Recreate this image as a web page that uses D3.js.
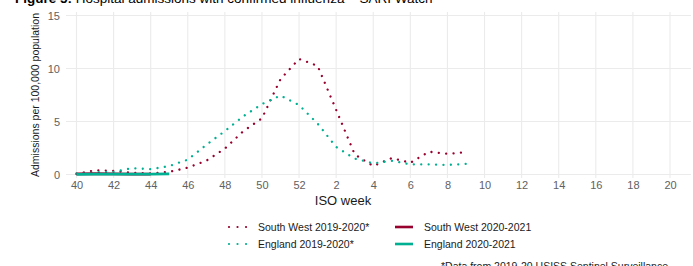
<!DOCTYPE html>
<html>
<head>
<meta charset="utf-8">
<script src="https://cdn.jsdelivr.net/npm/d3@7"></script>
<style>
	body { margin: 0; background: #fff; }
	svg { display: block; font-family: "Liberation Sans", Arial, sans-serif; }
</style>
</head>
<body>
<div id="chart"></div>
<script>
// ISO weeks along the x axis (season 40 -> 20)
const weeks = ['40','41','42','43','44','45','46','47','48','49','50','51','52',
	'1','2','3','4','5','6','7','8','9','10','11','12','13','14','15','16','17','18','19','20'];
const tickWeeks = ['40','42','44','46','48','50','52','2','4','6','8','10','12','14','16','18','20'];
const yTicks = [0, 5, 10, 15];

// 2019-2020 season, weeks 40 -> 9
const weeks1920 = ['40','41','42','43','44','45','46','47','48','49','50','51','52','1','2','3','4','5','6','7','8','9'];
const southWest1920 = [0.05, 0.4, 0.35, 0.15, 0.1, 0.25, 0.65, 1.3, 2.45, 4.1, 5.3, 9.0, 10.9, 10.25, 6.1, 1.9, 0.8, 1.55, 1.1, 2.15, 1.95, 2.1];
const england1920 = [0.1, 0.2, 0.25, 0.6, 0.5, 0.8, 1.4, 2.8, 4.1, 5.5, 6.65, 7.45, 6.55, 4.8, 2.6, 1.5, 1.05, 1.3, 0.95, 0.95, 0.9, 1.0];

// 2020-2021 season so far
const weeksSW2021 = ['40','41','42','43','44'];
const southWest2021 = [0.05, 0.07, 0.05, 0.03, 0.03];
const weeksEng2021 = ['40','41','42','43','44','45'];
const england2021 = [0.02, 0.03, 0.03, 0.04, 0.04, 0.05];

const RED = '#98002E', TEAL = '#00B092';

const series = [
	{ name: 'South West 2019-2020*', weeks: weeks1920, values: southWest1920, color: RED, dotted: true },
	{ name: 'England 2019-2020*', weeks: weeks1920, values: england1920, color: TEAL, dotted: true },
	{ name: 'South West 2020-2021', weeks: weeksSW2021, values: southWest2021, color: RED, dotted: false },
	{ name: 'England 2020-2021', weeks: weeksEng2021, values: england2021, color: TEAL, dotted: false }
];

const W = 693, H = 266;
const panel = { left: 66, right: 691, top: 12, bottom: 178 };

const svg = d3.select('#chart').append('svg')
	.attr('width', W).attr('height', H);

const x = d3.scalePoint().domain(weeks).range([76.5, 670]);
const y = d3.scaleLinear().domain([0, 15]).range([174.5, 15.5]);

// title, mostly cut off by the top edge
const title = svg.append('text').attr('x', 15).attr('y', 3)
	.attr('font-size', 13.5).attr('fill', '#000');
title.append('tspan').attr('font-weight', 'bold').text('Figure 5: ');
title.append('tspan').text('Hospital admissions with confirmed influenza \u2013 SARI Watch');

// gridlines
const grid = svg.append('g');
grid.selectAll('line.h').data(yTicks).enter().append('line')
	.attr('x1', panel.left).attr('x2', panel.right)
	.attr('y1', d => y(d)).attr('y2', d => y(d))
	.attr('stroke', '#ebebeb').attr('stroke-width', 1.1);
grid.selectAll('line.v').data(tickWeeks).enter().append('line')
	.attr('x1', d => x(d)).attr('x2', d => x(d))
	.attr('y1', panel.top).attr('y2', panel.bottom)
	.attr('stroke', '#ebebeb').attr('stroke-width', 1.1);

// axes
const yAxis = svg.append('g')
	.attr('transform', `translate(${panel.left - 4},0)`)
	.call(d3.axisLeft(y).tickValues(yTicks).tickSize(0).tickPadding(2));
const xAxis = svg.append('g')
	.attr('transform', `translate(0,${panel.bottom})`)
	.call(d3.axisBottom(x).tickValues(tickWeeks).tickSize(0).tickPadding(3));
[yAxis, xAxis].forEach(a => {
	a.select('.domain').remove();
	a.selectAll('text')
		.attr('font-family', '"Liberation Sans", Arial, sans-serif')
		.attr('font-size', 11).attr('fill', '#616161');
});

svg.append('text')
	.attr('x', 343).attr('y', 205)
	.attr('text-anchor', 'middle').attr('font-size', 13).attr('fill', '#1a1a1a')
	.text('ISO week');
svg.append('text')
	.attr('transform', `translate(39,${(y(0) + y(15)) / 2}) rotate(-90)`)
	.attr('text-anchor', 'middle').attr('font-size', 10.5).attr('fill', '#1a1a1a')
	.text('Admissions per 100,000 population');

// lines
const line = d3.line()
	.x(d => x(d.week))
	.y(d => y(d.value));

svg.append('g').selectAll('path')
	.data(series)
	.enter().append('path')
	.attr('d', s => line(s.weeks.map((w, i) => ({ week: w, value: s.values[i] }))))
	.attr('fill', 'none')
	.attr('stroke', s => s.color)
	.attr('stroke-width', s => s.dotted ? 2.3 : 2.8)
	.attr('stroke-linecap', s => s.dotted ? 'round' : 'butt')
	.attr('stroke-dasharray', s => s.dotted ? '0.01 7.4' : null);

// legend, two columns
const legendPos = [[229, 227], [229, 244], [395, 227], [395, 244]];
const legend = svg.append('g').selectAll('g')
	.data(series)
	.enter().append('g')
	.attr('transform', (d, i) => `translate(${legendPos[i][0]},${legendPos[i][1]})`);
legend.append('line')
	.attr('x1', 0).attr('x2', 18).attr('y1', 0).attr('y2', 0)
	.attr('stroke', d => d.color)
	.attr('stroke-width', d => d.dotted ? 2.2 : 2.6)
	.attr('stroke-linecap', d => d.dotted ? 'round' : 'butt')
	.attr('stroke-dasharray', d => d.dotted ? '0.01 8.5' : null);
legend.append('text')
	.attr('x', 29).attr('y', 0).attr('dy', '0.35em')
	.attr('font-size', 10.5).attr('fill', '#1a1a1a')
	.text(d => d.name);

// footnote, cut by the bottom edge
svg.append('text')
	.attr('x', 441).attr('y', 270)
	.attr('font-size', 10.5).attr('fill', '#1a1a1a')
	.text('*Data from 2019-20 USISS Sentinel Surveillance');
</script>
</body>
</html>
